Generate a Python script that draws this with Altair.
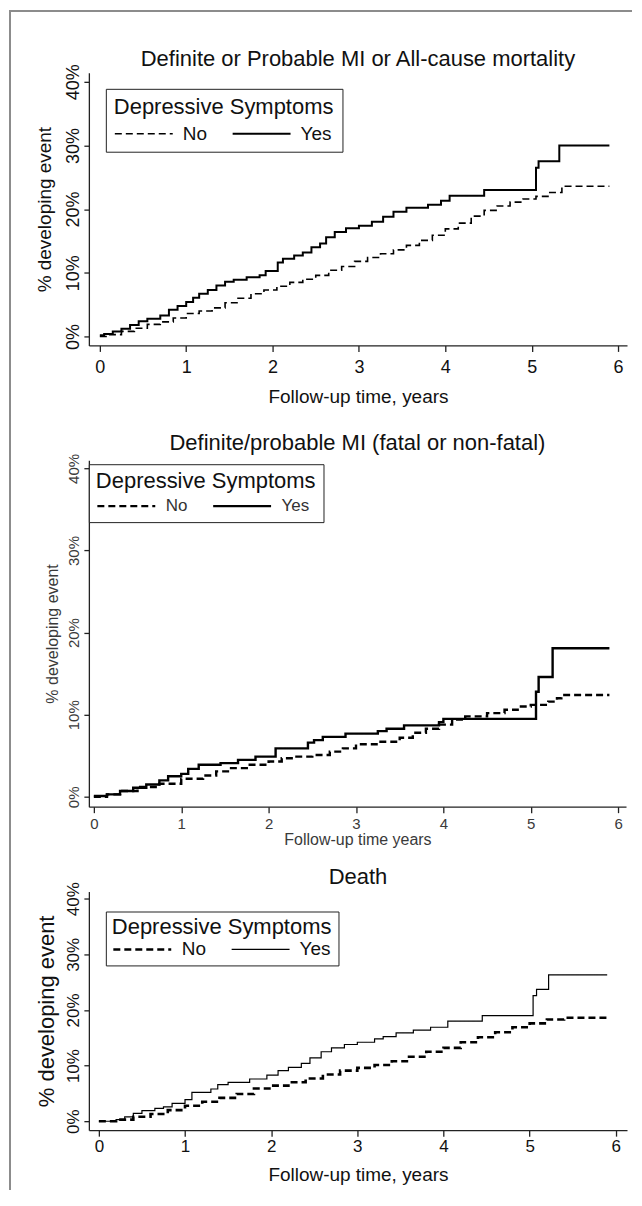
import altair as alt
import pandas as pd

FONT = "Liberation Sans"
FRAME = "#8c8c8c"
GROUPS = ["No", "Yes"]
X_TICKS = [0, 1, 2, 3, 4, 5, 6]
Y_TICKS = [0, 10, 20, 30, 40]
LEGEND_TITLE = "Depressive Symptoms"

# ---- Panel 1: Definite or Probable MI or All-cause mortality ----
P1_TITLE = "Definite or Probable MI or All-cause mortality"
P1_XTITLE = "Follow-up time, years"
P1_YES_T = [0, 0.05, 0.15, 0.25, 0.35, 0.45, 0.55, 0.7, 0.8, 0.9, 1.0, 1.08, 1.15, 1.25, 1.35,
            1.45, 1.55, 1.7, 1.85, 1.92, 2.06, 2.12, 2.25, 2.35, 2.45, 2.55, 2.62, 2.72, 2.85,
            3.0, 3.15, 3.28, 3.4, 3.55, 3.8, 3.95, 4.05, 4.45, 5.05, 5.08, 5.32, 5.9]
P1_YES_P = [0.2, 0.4, 0.8, 1.2, 1.8, 2.4, 2.8, 3.3, 4.2, 4.8, 5.4, 6.1, 6.7, 7.3, 8.0,
            8.6, 8.9, 9.3, 9.6, 10.3, 11.6, 12.2, 12.7, 13.2, 14.0, 14.6, 15.6, 16.4, 17.0,
            17.4, 18.0, 18.8, 19.6, 20.2, 20.7, 21.3, 22.1, 23.0, 26.5, 27.5, 30.0, 30.0]
P1_NO_T = [0, 0.1, 0.25, 0.4, 0.55, 0.7, 0.85, 1.0, 1.15, 1.3, 1.45, 1.6, 1.75, 1.9, 2.05,
           2.2, 2.35, 2.5, 2.65, 2.8, 2.95, 3.1, 3.25, 3.4, 3.55, 3.7, 3.85, 4.0, 4.15, 4.3,
           4.45, 4.6, 4.75, 4.9, 5.05, 5.2, 5.35, 5.9]
P1_NO_P = [0, 0.3, 0.8, 1.3, 1.9, 2.3, 2.9, 3.6, 4.0, 4.5, 5.3, 6.0, 6.7, 7.3, 7.9,
           8.5, 9.0, 9.6, 10.4, 11.0, 11.8, 12.4, 13.0, 13.6, 14.3, 15.1, 15.9, 16.9, 17.8, 18.9,
           19.8, 20.5, 21.1, 21.6, 22.0, 22.6, 23.6, 23.6]

# ---- Panel 2: Definite/probable MI (fatal or non-fatal) ----
P2_TITLE = "Definite/probable MI (fatal or non-fatal)"
P2_XTITLE = "Follow-up time years"
P2_YES_T = [0, 0.15, 0.3, 0.45, 0.6, 0.75, 0.85, 1.0, 1.08, 1.2, 1.45, 1.65, 1.85, 2.08,
            2.45, 2.52, 2.62, 2.88, 3.25, 3.35, 3.55, 3.95, 4.0, 5.06, 5.09, 5.25, 5.9]
P2_YES_P = [0.1, 0.3, 0.7, 1.1, 1.5, 2.0, 2.5, 2.8, 3.4, 3.9, 4.1, 4.5, 4.9, 5.9,
            6.6, 6.9, 7.3, 7.7, 8.0, 8.3, 8.7, 9.1, 9.5, 12.8, 14.6, 18.1, 18.1]
P2_NO_T = [0, 0.15, 0.3, 0.5, 0.75, 1.0, 1.25, 1.4, 1.55, 1.75, 2.0, 2.15, 2.3, 2.5, 2.7,
           2.85, 3.0, 3.25, 3.5, 3.65, 3.8, 3.95, 4.1, 4.25, 4.5, 4.7, 4.85, 5.0, 5.2, 5.3,
           5.35, 5.9]
P2_NO_P = [0, 0.3, 0.7, 1.2, 1.6, 2.2, 2.6, 3.1, 3.5, 3.9, 4.3, 4.7, 4.9, 5.1, 5.5,
           5.9, 6.4, 6.7, 7.2, 7.8, 8.3, 8.8, 9.4, 9.8, 10.2, 10.6, 11.0, 11.2, 11.6, 12.0,
           12.4, 12.4]

# ---- Panel 3: Death ----
P3_TITLE = "Death"
P3_XTITLE = "Follow-up time, years"
P3_YES_T = [0, 0.2, 0.3, 0.4, 0.5, 0.65, 0.75, 0.85, 1.0, 1.08, 1.3, 1.38, 1.5, 1.75, 1.95,
            2.08, 2.2, 2.35, 2.45, 2.58, 2.7, 2.85, 3.0, 3.2, 3.3, 3.45, 3.65, 3.85, 4.05,
            4.45, 5.04, 5.08, 5.22, 5.9]
P3_YES_P = [0, 0.3, 0.8, 1.4, 1.9, 2.3, 2.6, 3.2, 3.9, 5.2, 5.8, 6.6, 7.0, 7.6, 8.3,
            9.1, 9.7, 10.4, 11.4, 12.5, 13.2, 13.8, 14.2, 14.8, 15.2, 15.9, 16.4, 16.9, 18.0,
            19.0, 22.6, 23.7, 26.3, 26.3]
P3_NO_T = [0, 0.2, 0.4, 0.6, 0.8, 1.0, 1.2, 1.4, 1.6, 1.8, 2.0, 2.2, 2.4, 2.6, 2.8, 3.0,
           3.2, 3.4, 3.6, 3.8, 4.0, 4.2, 4.4, 4.6, 4.8, 5.0, 5.2, 5.4, 5.9]
P3_NO_P = [0, 0.3, 0.8, 1.3, 2.0, 2.8, 3.5, 4.2, 4.9, 5.9, 6.4, 7.0, 7.7, 8.4, 9.1, 9.6,
           10.1, 10.8, 11.6, 12.5, 13.2, 14.2, 15.1, 16.0, 16.9, 17.6, 18.3, 18.6, 18.6]

ONE = pd.DataFrame({"k": [0]})


def panel(title, xtitle, no_t, no_p, yes_t, yes_p, s):
    df = pd.DataFrame({
        "t": no_t + yes_t,
        "pct": no_p + yes_p,
        "group": ["No"] * len(no_t) + ["Yes"] * len(yes_t),
    })
    legend = alt.Legend(
        title=LEGEND_TITLE, orient="none", legendX=s["lx"], legendY=s["ly"],
        direction="horizontal", titleFont=FONT, titleFontSize=22, titleFontWeight="normal",
        titleColor="#111111", titlePadding=s["ltp"], titleLimit=500, labelFont=FONT,
        labelFontSize=s["lfs"], labelColor=s["lcol"], symbolType="stroke", symbolSize=3364,
        symbolStrokeColor="black", clipHeight=s["clip"], labelOffset=9, columnPadding=24,
        padding=s["lpad"], strokeColor="#222222", fillColor="white",
    )
    lines = alt.Chart(df).mark_line(interpolate="step-after", color="black").encode(
        x=alt.X("t:Q", scale=alt.Scale(domain=s["xdom"], nice=False, zero=False),
                axis=alt.Axis(values=X_TICKS, format="d", title=xtitle, titleFont=FONT,
                              titleFontSize=s["xtfs"], titleFontWeight="normal",
                              titleColor=s["tcol"], titlePadding=s["xtp"], labelFont=FONT,
                              labelFontSize=s["xlfs"], labelColor=s["tcol"],
                              labelPadding=s["xlp"], labelFlush=False, tickSize=6,
                              grid=False)),
        y=alt.Y("pct:Q", scale=alt.Scale(domain=s["ydom"], nice=False, zero=False),
                axis=alt.Axis(values=Y_TICKS, labelExpr="datum.value + '%'",
                              title="% developing event", titleFont=FONT,
                              titleFontSize=s["ytfs"], titleFontWeight="normal",
                              titleColor=s["tcol"], titlePadding=s["ytp"], labelFont=FONT,
                              labelFontSize=s["ylfs"], labelColor=s["tcol"], labelAngle=270,
                              labelAlign="center", labelBaseline="alphabetic",
                              labelPadding=s["ylp"], tickSize=5, grid=False)),
        strokeDash=alt.StrokeDash("group:N", scale=alt.Scale(domain=GROUPS, range=[[7, 4], [1, 0]]),
                                  legend=legend),
        strokeWidth=alt.StrokeWidth("group:N", scale=alt.Scale(type="ordinal", domain=GROUPS,
                                                               range=s["widths"]),
                                    legend=legend),
    )
    ttl = alt.Chart(ONE).mark_text(text=title, font=FONT, fontSize=22, color="#111111",
                                   align="center", baseline="middle").encode(
        x=alt.value(s["w"] / 2), y=alt.value(s["ty"]))
    layers = [lines, ttl]
    layers.append(alt.Chart(ONE).mark_rule(color=FRAME, strokeWidth=2, strokeCap="square").encode(
        x=alt.value(-79), x2=alt.value(-79), y=alt.value(s["f1"]), y2=alt.value(s["f2"])))
    if s.get("top"):
        layers.append(alt.Chart(ONE).mark_rule(color=FRAME, strokeWidth=2, strokeCap="square").encode(
            x=alt.value(-79), x2=alt.value(543), y=alt.value(s["f1"]), y2=alt.value(s["f1"])))
    return alt.layer(*layers).properties(width=s["w"], height=s["h"])


p1 = panel(P1_TITLE, P1_XTITLE, P1_NO_T, P1_NO_P, P1_YES_T, P1_YES_P, dict(
    w=539, h=273, xdom=[-0.127, 6.104], ydom=[-1.4, 41.4], ty=-14,
    lx=17, ly=16, ltp=5, lpad=8, clip=20, lfs=19, lcol="#111111", widths=[1.6, 2.0],
    tcol="#111111", xtfs=19, xtp=11, xlfs=18, xlp=7, ytfs=19, ytp=10, ylfs=18, ylp=5,
    f1=-62, f2=343, top=True))

p2 = panel(P2_TITLE, P2_XTITLE, P2_NO_T, P2_NO_P, P2_YES_T, P2_YES_P, dict(
    w=538, h=347, xdom=[-0.057, 6.09], ydom=[-1.2, 41.0], ty=-17,
    lx=0, ly=4, ltp=4, lpad=7, clip=18, lfs=17, lcol="#333333", widths=[2.4, 2.4],
    tcol="#3a3a3a", xtfs=16, xtp=0, xlfs=15, xlp=4, ytfs=16, ytp=6, ylfs=15, ylp=5,
    f1=-45, f2=398))

p3 = panel(P3_TITLE, P3_XTITLE, P3_NO_T, P3_NO_P, P3_YES_T, P3_YES_P, dict(
    w=539, h=239, xdom=[-0.116, 6.13], ydom=[-1.6, 41.3], ty=-15,
    lx=17, ly=20, ltp=0, lpad=6, clip=20, lfs=19, lcol="#111111", widths=[2.6, 1.2],
    tcol="#111111", xtfs=19, xtp=11, xlfs=17, xlp=2, ytfs=22, ytp=6, ylfs=17, ylp=5,
    f1=-34, f2=298))

chart = (
    alt.vconcat(p1, p2, p3, spacing=-4)
    .resolve_scale(strokeDash="independent", strokeWidth="independent")
    .resolve_legend(strokeDash="independent", strokeWidth="independent")
    .properties(padding={"left": 0, "top": 0, "right": 1, "bottom": 0}, background="white")
    .configure(font=FONT)
    .configure_view(stroke=None)
    .configure_axis(domainColor="#222222", tickColor="#222222", domainWidth=1.3, tickWidth=1.3)
)

chart.save("out.html", embed_options={"renderer": "svg", "actions": False})
